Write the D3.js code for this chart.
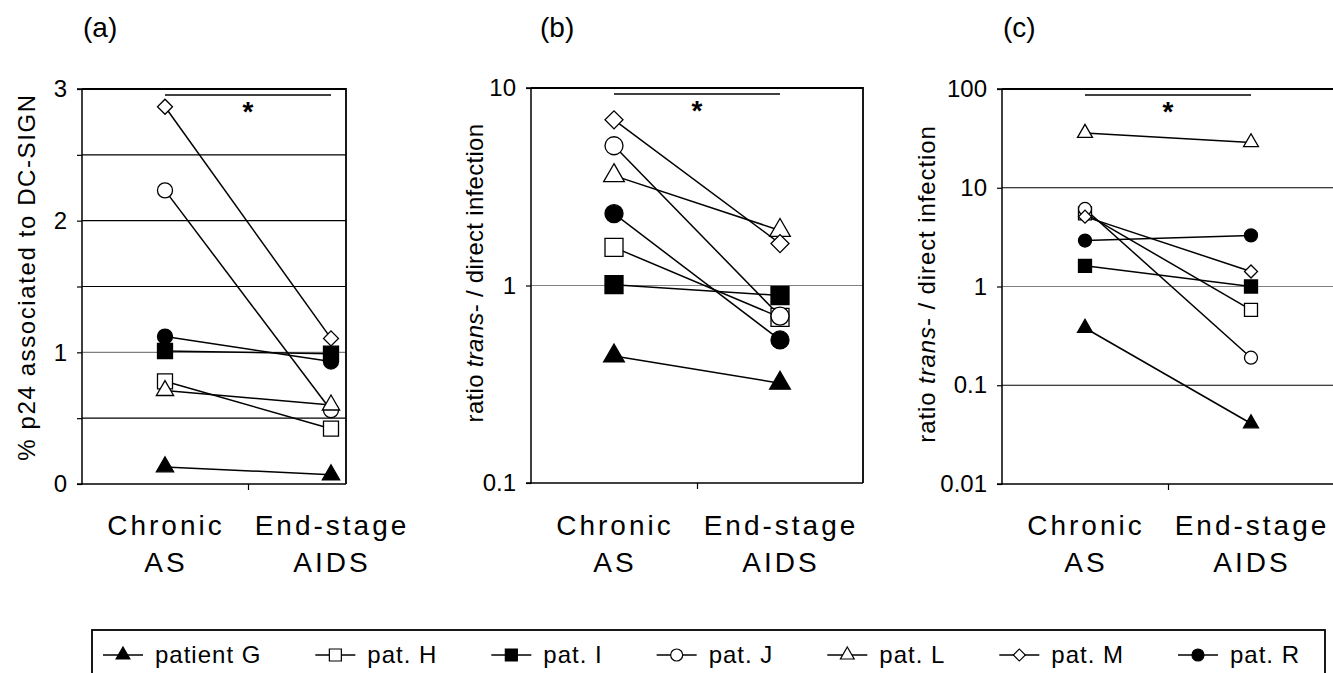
<!DOCTYPE html>
<html>
<head>
  <meta charset="utf-8">
  <script src="https://d3js.org/d3.v7.min.js"></script>
  <style>
    body { margin: 0; background: #fff; }
    text { font-family: "Liberation Sans", Arial, sans-serif; fill: #000; }
  </style>
</head>
<body>
  <svg id="chart"></svg>
  <script>
    // categories and series names
    const categories = ["Chronic AS", "End-stage AIDS"];
    const patients = ["patient G", "pat. H", "pat. I", "pat. J", "pat. L", "pat. M", "pat. R"];

    // (a) % p24 associated to DC-SIGN, per patient (same order as patients)
    const p24Chronic = [0.13, 0.78, 1.01, 2.23, 0.71, 2.865, 1.12];
    const p24EndStage = [0.07, 0.42, 0.99, 0.56, 0.60, 1.106, 0.93];

    // (b) ratio trans- / direct infection
    const ratioBChronic = [0.44, 1.56, 1.01, 5.1, 3.6, 6.9, 2.31];
    const ratioBEndStage = [0.32, 0.69, 0.89, 0.70, 1.9, 1.63, 0.53];

    // (c) ratio trans- / direct infection
    const ratioCChronic = [0.38, 5.5, 1.62, 6.1, 35.8, 5.1, 2.92];
    const ratioCEndStage = [0.041, 0.58, 1.0, 0.19, 28.8, 1.42, 3.29];

    // tick labels
    const ticksA = [0, 0.5, 1, 1.5, 2, 2.5, 3];
    const ticksB = [0.1, 1, 10];
    const ticksC = [0.01, 0.1, 1, 10, 100];

    let width = 1333, height = 673;
    let svg = d3.select("#chart").attr("width", width).attr("height", height);

    // marker look per patient
    let markers = [
      { shape: "triangle", fill: "#000" },
      { shape: "square", fill: "#fff" },
      { shape: "square", fill: "#000" },
      { shape: "circle", fill: "#fff" },
      { shape: "triangle", fill: "#fff" },
      { shape: "diamond", fill: "#fff" },
      { shape: "circle", fill: "#000" }
    ];
    // order markers are painted in
    let paintOrder = [0, 1, 2, 6, 3, 4, 5];

    function symbolPath(shape, w) {
      if (shape == "circle") return d3.symbol(d3.symbolCircle, Math.PI * w * w / 4)();
      if (shape == "square") return d3.symbol(d3.symbolSquare, w * w)();
      if (shape == "diamond") return d3.symbol(d3.symbolSquare, w * w / 2)();
      w = w * 1.15; // triangles a bit wider
      return d3.symbol(d3.symbolTriangle, Math.sqrt(3) * w * w / 4)();
    }

    let panels = [
      { tag: "(a)", left: 82, right: 346, top: 89, bottom: 484, full: 332,
        y: d3.scaleLinear().domain([0, 3]), ticks: ticksA,
        fmt: d => Number.isInteger(d) ? d : "", grid: [0.5, 1, 1.5, 2, 2.5],
        chronic: p24Chronic, end: p24EndStage, size: 15,
        titleX: 35, titleY: 277, spacing: "1.6px" },
      { tag: "(b)", left: 531, right: 863, top: 88, bottom: 483, full: 332,
        y: d3.scaleLog().domain([0.1, 10]), ticks: ticksB,
        fmt: d => d, grid: [1],
        chronic: ratioBChronic, end: ratioBEndStage, size: 18,
        titleX: 483, titleY: 273, spacing: "0.3px" },
      { tag: "(c)", left: 1002, right: 1345, top: 89, bottom: 484, full: 332,
        y: d3.scaleLog().domain([0.01, 100]), ticks: ticksC,
        fmt: d => d, grid: [0.1, 1, 10],
        chronic: ratioCChronic, end: ratioCEndStage, size: 13,
        titleX: 935, titleY: 284, spacing: "0.9px" }
    ];

    panels.forEach((p, pi) => {
      let g = svg.append("g");
      p.y.range([p.bottom, p.top]);
      let x = d3.scalePoint().domain(categories).range([p.left, p.left + p.full]).padding(0.5);

      // gridlines
      g.selectAll(".grid").data(p.grid).enter().append("line")
        .attr("x1", p.left).attr("x2", p.right)
        .attr("y1", d => p.y(d)).attr("y2", d => p.y(d))
        .attr("stroke", d => d == 1 ? "#808080" : "#000")
        .attr("stroke-width", 1.2);

      // frame top + right
      g.append("path")
        .attr("d", `M${p.left},${p.top}H${p.right}V${p.bottom}`)
        .attr("fill", "none").attr("stroke", "#000").attr("stroke-width", 1.8);

      // y axis
      let yAxis = g.append("g").attr("transform", `translate(${p.left},0)`)
        .call(d3.axisLeft(p.y).tickValues(p.ticks).tickFormat(p.fmt).tickSize(5).tickPadding(10));
      yAxis.select(".domain").attr("d", `M-5,${p.top}H0V${p.bottom}H-5`).attr("stroke-width", 1.5);
      yAxis.selectAll(".tick line").attr("stroke-width", 1.2);
      yAxis.selectAll("text").style("font-size", "24px").attr("font-family", null);

      // x axis: baseline with a tick between the categories
      let xl = d3.scaleLinear().domain([0, 2]).range([p.left, p.left + p.full]);
      let xAxis = g.append("g").attr("transform", `translate(0,${p.bottom})`)
        .call(d3.axisBottom(xl).tickValues([1]).tickFormat("").tickSize(6));
      xAxis.select(".domain").attr("d", `M${p.left},0H${p.right}`).attr("stroke-width", 1.5);
      xAxis.selectAll(".tick line").attr("stroke-width", 1.2);

      // category labels (two lines)
      categories.forEach(c => {
        let parts = c.split(" ");
        let t = g.append("text").attr("text-anchor", "middle")
          .style("font-size", "28px").style("letter-spacing", "3px");
        t.append("tspan").attr("x", x(c) + 1).attr("y", 535).text(parts[0]);
        t.append("tspan").attr("x", x(c) + 1).attr("y", 572).text(parts.slice(1).join(" "));
      });

      // y axis title
      let title = g.append("text").attr("text-anchor", "middle")
        .attr("transform", `translate(${p.titleX},${p.titleY}) rotate(-90)`)
        .style("font-size", "24px").style("letter-spacing", p.spacing);
      if (pi == 0) {
        title.text("% p24 associated to DC-SIGN");
      } else {
        title.append("tspan").text("ratio ");
        title.append("tspan").style("font-style", "italic").text("trans");
        title.append("tspan").text("- / direct infection");
      }

      // panel tag
      g.append("text").attr("x", p.left + (pi == 1 ? 9 : 1)).attr("y", 37)
        .style("font-size", "28px").text(p.tag);

      // significance bar and star
      let x0 = x(categories[0]), x1 = x(categories[1]);
      g.append("line").attr("x1", x0).attr("x2", x1)
        .attr("y1", p.top + 6).attr("y2", p.top + 6)
        .attr("stroke", "#000").attr("stroke-width", 1.5);
      g.append("text").attr("x", (x0 + x1) / 2).attr("y", p.top + 32)
        .attr("text-anchor", "middle").style("font-size", "28px").style("font-weight", "bold")
        .text("*");

      // patient lines
      g.selectAll(".pline").data(patients).enter().append("line")
        .attr("x1", x0).attr("x2", x1)
        .attr("y1", (d, i) => p.y(p.chronic[i]))
        .attr("y2", (d, i) => p.y(p.end[i]))
        .attr("stroke", "#000").attr("stroke-width", 1.5);

      // markers
      paintOrder.forEach(i => {
        [[x0, p.chronic[i]], [x1, p.end[i]]].forEach(([cx, v]) => {
          let m = markers[i];
          g.append("path")
            .attr("d", symbolPath(m.shape, p.size))
            .attr("transform", `translate(${cx},${p.y(v)})` + (m.shape == "diamond" ? " rotate(45)" : ""))
            .attr("fill", m.fill).attr("stroke", "#000").attr("stroke-width", 1.3);
        });
      });
    });

    // legend
    let legend = svg.append("g");
    legend.append("rect").attr("x", 92).attr("y", 630).attr("width", 1233).attr("height", 60)
      .attr("fill", "none").attr("stroke", "#000").attr("stroke-width", 1.8);

    let items = patients.map((name, i) => {
      let it = legend.append("g");
      it.append("line").attr("x1", 0).attr("x2", 40).attr("y1", 0).attr("y2", 0)
        .attr("stroke", "#000").attr("stroke-width", 1.5);
      let m = markers[i];
      it.append("path").attr("d", symbolPath(m.shape, 12))
        .attr("transform", "translate(20,0)" + (m.shape == "diamond" ? " rotate(45)" : ""))
        .attr("fill", m.fill).attr("stroke", "#000").attr("stroke-width", 1.2);
      let t = it.append("text").attr("x", 52).attr("y", 8)
        .style("font-size", "24px").style("letter-spacing", "1px").text(name);
      return { g: it, w: 52 + t.node().getComputedTextLength() };
    });
    let startX = 103, endX = 1300;
    let total = d3.sum(items, d => d.w);
    let gap = (endX - startX - total) / (items.length - 1);
    let cx = startX;
    items.forEach(d => {
      d.g.attr("transform", `translate(${cx},655)`);
      cx += d.w + gap;
    });
  </script>
</body>
</html>
